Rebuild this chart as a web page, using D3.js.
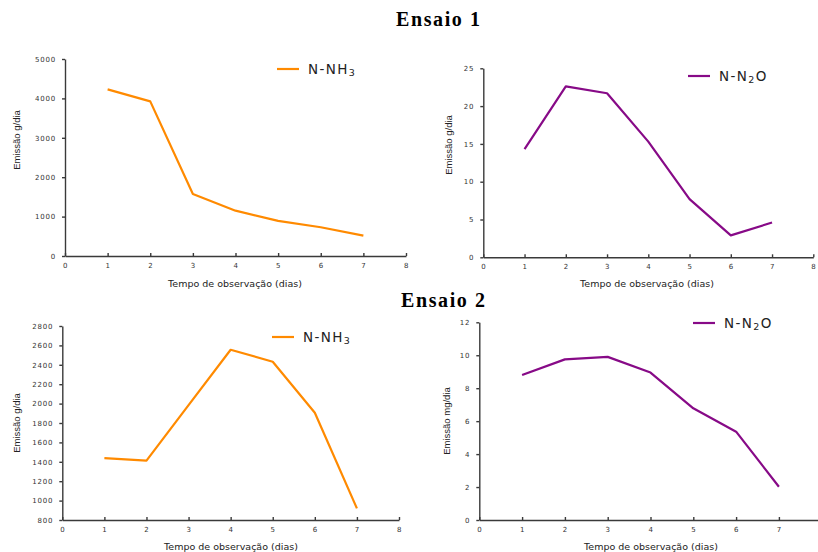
<!DOCTYPE html>
<html>
<head>
<meta charset="utf-8">
<script src="https://cdn.jsdelivr.net/npm/d3@7"></script>
<style>
  body { margin: 0; background: #fff; }
  svg { display: block; }
  .tick text { font-family: "DejaVu Sans", sans-serif; font-size: 7px; fill: #333; letter-spacing: 0.8px; }
  .domain, .tick line { stroke: #3a3a3a; stroke-width: 1.4; }
</style>
</head>
<body>
<div id="chart"></div>
<script>
// dados
var dias = [1, 2, 3, 4, 5, 6, 7];
var diasTicks = [0, 1, 2, 3, 4, 5, 6, 7, 8];
var diasTicksCorte = [0, 1, 2, 3, 4, 5, 6, 7]; // o 8 fica fora da imagem no ultimo painel

var nh3Ensaio1 = [4230, 3925, 1575, 1150, 890, 730, 518];
var n2oEnsaio1 = [14.3, 22.6, 21.7, 15.3, 7.7, 2.9, 4.6];
var nh3Ensaio2 = [1437, 1412, 1985, 2555, 2432, 1906, 920];
var n2oEnsaio2 = [8.8, 9.75, 9.9, 8.95, 6.78, 5.36, 2.02];

var ticksNh3E1 = [0, 1000, 2000, 3000, 4000, 5000];
var ticksN2oE1 = [0, 5, 10, 15, 20, 25];
var ticksNh3E2 = [800, 1000, 1200, 1400, 1600, 1800, 2000, 2200, 2400, 2600, 2800];
var ticksN2oE2 = [0, 2, 4, 6, 8, 10, 12];

var width = 818, height = 552;
var laranja = '#ff8a00', roxo = '#870a87';

var svg = d3.select('#chart')
  .append('svg')
  .attr('width', width)
  .attr('height', height);

// titulos
svg.append('text')
  .attr('x', 438).attr('y', 26)
  .attr('text-anchor', 'middle')
  .attr('textLength', 84)
  .style('font-family', '"Liberation Serif", serif')
  .style('font-weight', 'bold')
  .style('font-size', '20px')
  .text('Ensaio 1');

svg.append('text')
  .attr('x', 443).attr('y', 307)
  .attr('text-anchor', 'middle')
  .attr('textLength', 84)
  .style('font-family', '"Liberation Serif", serif')
  .style('font-weight', 'bold')
  .style('font-size', '20px')
  .text('Ensaio 2');

function painel(p) {
  var x = d3.scaleLinear().domain([0, 8]).range([p.x0, p.x1]);
  var y = d3.scaleLinear().domain(p.yDomain).range([p.y0, p.y1]);

  svg.append('g')
    .attr('transform', 'translate(0,' + p.y0 + ')')
    .call(d3.axisBottom(x).tickValues(p.xTicks).tickFormat(d3.format('d'))
      .tickSize(-3).tickSizeOuter(0).tickPadding(7));

  svg.append('g')
    .attr('transform', 'translate(' + p.x0 + ',0)')
    .call(d3.axisLeft(y).tickValues(p.ticks).tickFormat(d3.format('d'))
      .tickSize(3).tickSizeOuter(0).tickPadding(6));

  var line = d3.line()
    .x(function(d, i) { return x(dias[i]); })
    .y(function(d) { return y(d); });

  svg.append('path')
    .datum(p.values)
    .attr('fill', 'none')
    .attr('stroke', p.color)
    .attr('stroke-width', 2.2)
    .attr('stroke-linejoin', 'round')
    .attr('d', line);

  // titulo eixo x
  svg.append('text')
    .attr('x', p.xt[0]).attr('y', p.xt[1])
    .attr('text-anchor', 'middle')
    .style('font-family', '"DejaVu Sans", sans-serif')
    .style('font-size', '9.5px')
    .style('fill', '#222')
    .text('Tempo de observação (dias)');

  // titulo eixo y
  svg.append('text')
    .attr('transform', 'translate(' + p.yt[0] + ',' + p.yt[1] + ') rotate(-90)')
    .attr('text-anchor', 'middle')
    .style('font-family', '"Liberation Sans", sans-serif')
    .style('font-size', '9.5px')
    .style('fill', '#222')
    .text(p.yLabel);

  // legenda
  svg.append('line')
    .attr('x1', p.leg[0]).attr('x2', p.leg[0] + 22)
    .attr('y1', p.leg[1]).attr('y2', p.leg[1])
    .attr('stroke', p.color).attr('stroke-width', 2.2);

  var t = svg.append('text')
    .attr('x', p.leg[0] + 31).attr('y', p.leg[1] + 5)
    .style('font-family', '"DejaVu Sans", sans-serif')
    .style('font-size', '13.5px')
    .style('letter-spacing', '1.4px')
    .style('fill', '#222')
    .text(p.legName[0]);
  t.append('tspan')
    .attr('dy', 2)
    .style('font-size', '9.5px')
    .text(p.legName[1]);
  if (p.legName[2]) {
    t.append('tspan')
      .attr('dy', -2)
      .text(p.legName[2]);
  }
}

painel({ x0: 65, x1: 406, y0: 256, y1: 59, yDomain: [0, 5000], ticks: ticksNh3E1, xTicks: diasTicks,
  values: nh3Ensaio1, color: laranja, xt: [235, 287], yt: [20, 140],
  yLabel: 'Emissão g/dia', leg: [277, 69], legName: ['N-NH', '3'] });

painel({ x0: 483.3, x1: 813.3, y0: 257.3, y1: 68.3, yDomain: [0, 25], ticks: ticksN2oE1, xTicks: diasTicks,
  values: n2oEnsaio1, color: roxo, xt: [647, 287], yt: [452, 145],
  yLabel: 'Emissão g/dia', leg: [688, 76], legName: ['N-N', '2', 'O'] });

painel({ x0: 62.3, x1: 399, y0: 520, y1: 326, yDomain: [800, 2800], ticks: ticksNh3E2, xTicks: diasTicks,
  values: nh3Ensaio2, color: laranja, xt: [231, 550], yt: [20, 423],
  yLabel: 'Emissão g/dia', leg: [272, 337], legName: ['N-NH', '3'] });

painel({ x0: 479.3, x1: 821.7, y0: 520, y1: 322.3, yDomain: [0, 12], ticks: ticksN2oE2, xTicks: diasTicksCorte,
  values: n2oEnsaio2, color: roxo, xt: [651, 550], yt: [450, 421],
  yLabel: 'Emissão mg/dia', leg: [693, 323], legName: ['N-N', '2', 'O'] });
</script>
</body>
</html>
